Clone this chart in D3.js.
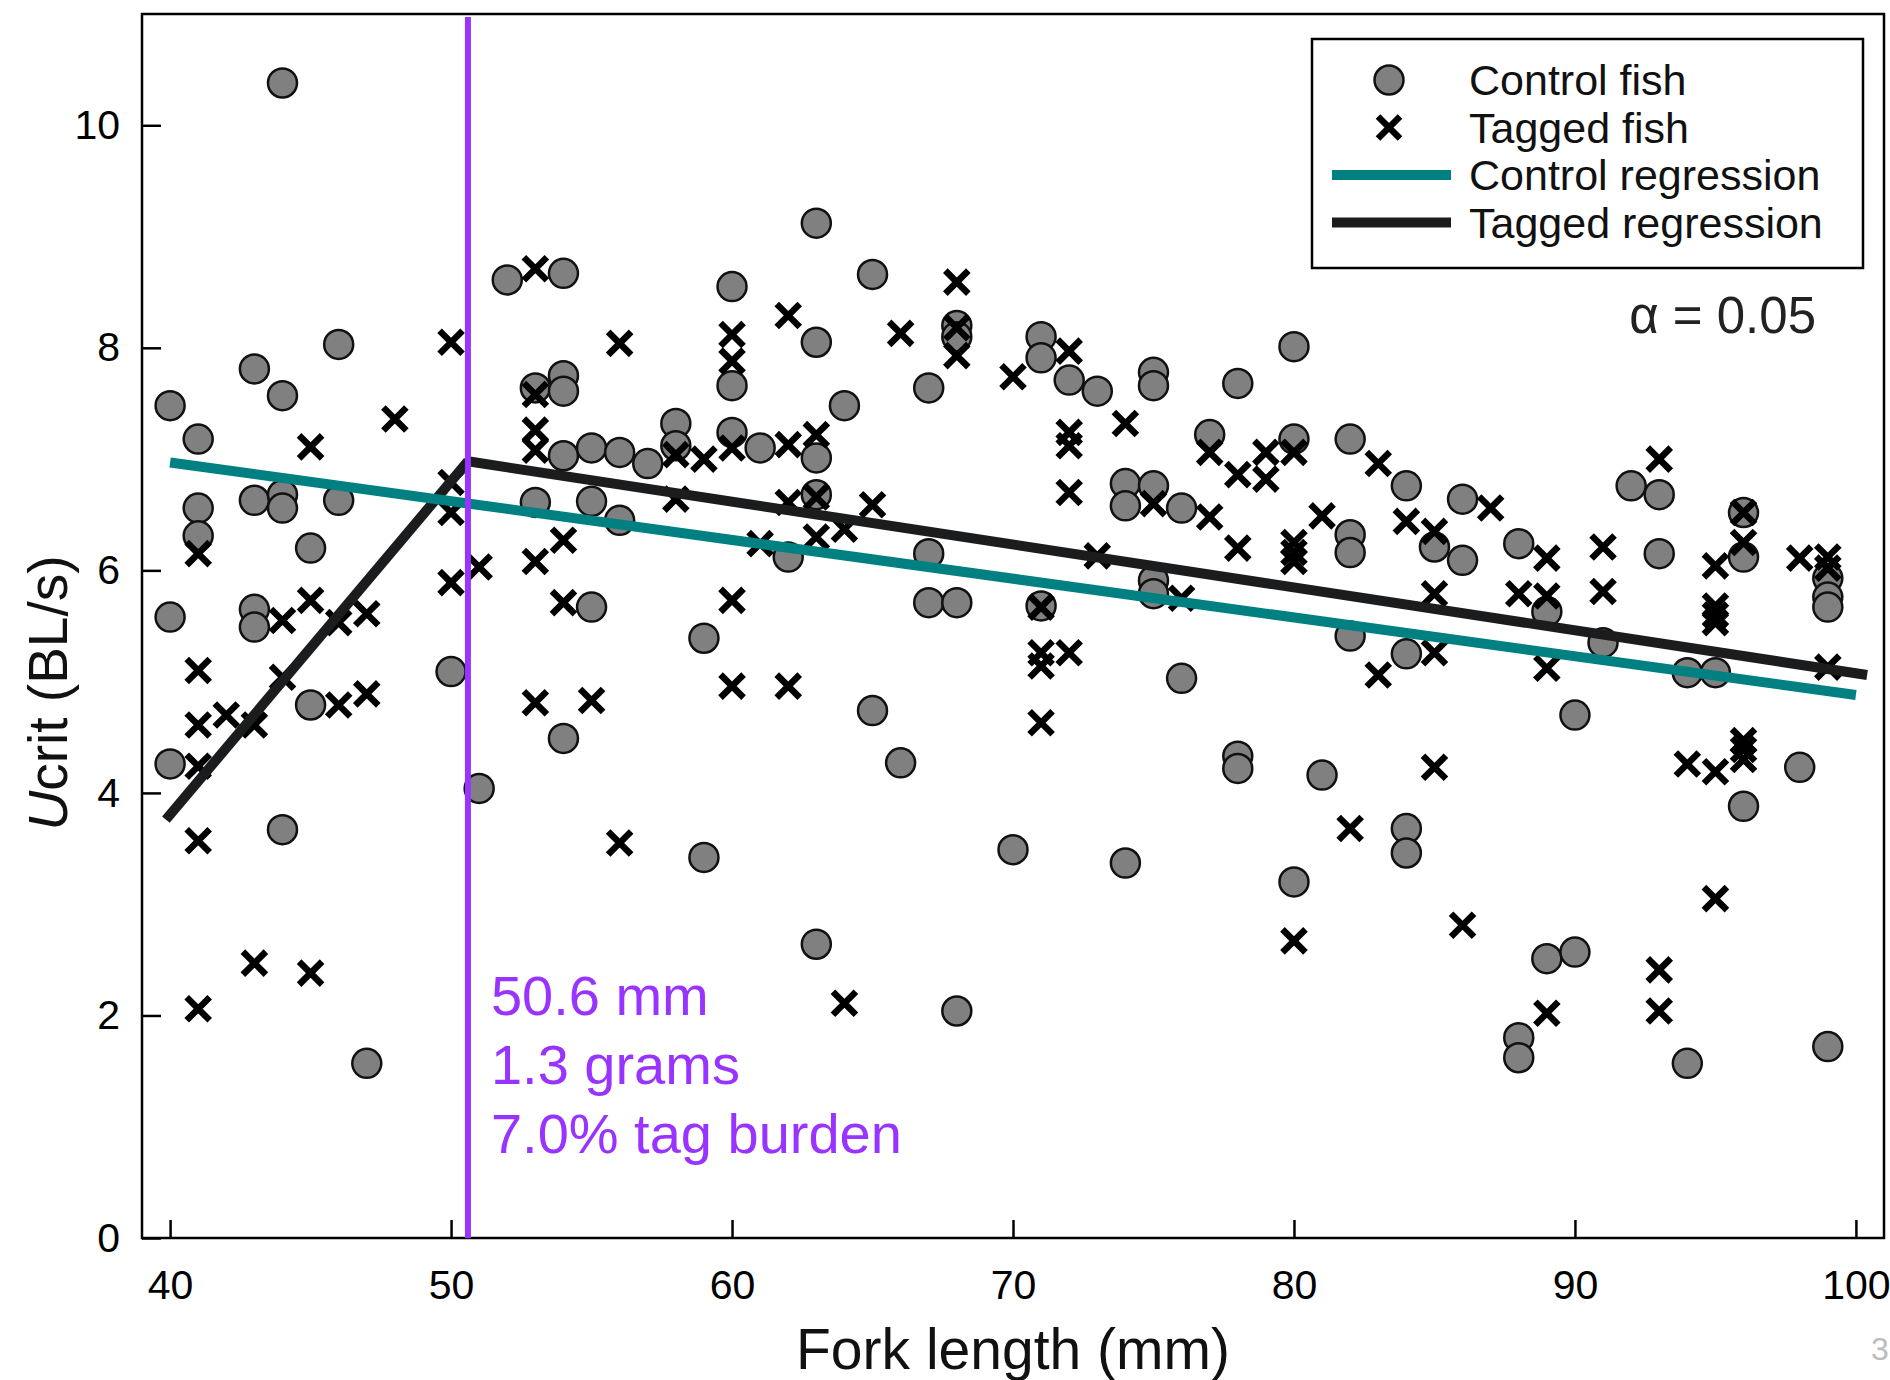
<!DOCTYPE html>
<html>
<head>
<meta charset="utf-8">
<script src="https://cdn.jsdelivr.net/npm/d3@7"></script>
<style>
  body { margin: 0; background: #fff; }
  text { font-family: "Liberation Sans", Arial, sans-serif; }
</style>
</head>
<body>
<div id="plot"></div>
<script>
// control fish: fork length (mm) and Ucrit (BL/s), one line per length
const controlLength = [
  40,40,40,
  41,41,41,
  43,43,43,43,
  44,44,44,44,44,
  45,45,
  46,46,
  47,
  50,
  51,
  52,
  53,53,
  54,54,54,54,54,
  55,55,55,
  56,56,
  57,
  58,58,
  59,59,
  60,60,60,
  61,
  62,
  63,63,63,63,63,
  64,
  65,65,
  66,
  67,67,67,
  68,68,68,68,
  70,
  71,71,71,
  72,
  73,
  74,74,74,
  75,75,75,75,75,
  76,76,
  77,
  78,78,78,
  80,80,80,
  81,
  82,82,82,82,
  84,84,84,84,
  85,
  86,86,
  88,88,88,
  89,89,
  90,90,
  91,
  92,
  93,93,
  94,94,
  95,
  96,96,96,
  98,
  99,99,99,99
];
const controlUcrit = [
  7.48,5.58,4.26,
  7.18,6.56,6.31,
  7.81,6.63,5.65,5.49,
  10.38,7.57,6.68,6.56,3.67,
  6.20,4.79,
  8.03,6.63,
  1.57,
  5.09,
  4.04,
  8.61,
  7.64,6.61,
  8.67,7.75,7.61,7.03,4.49,
  7.10,6.62,5.67,
  7.06,6.45,
  6.96,
  7.32,7.12,
  5.39,3.42,
  8.55,7.66,7.24,
  7.10,
  6.12,
  9.12,8.05,7.01,6.68,2.64,
  7.48,
  8.66,4.74,
  4.27,
  7.64,6.15,5.71,
  8.20,8.10,5.71,2.04,
  3.49,
  8.10,7.91,5.68,
  7.71,
  7.61,
  6.78,6.58,3.37,
  7.78,7.66,6.76,5.91,5.79,
  6.56,5.03,
  7.22,
  7.68,4.33,4.22,
  8.01,7.18,3.20,
  4.16,
  7.18,6.32,6.16,5.41,
  6.76,5.25,3.68,3.46,
  6.21,
  6.64,6.09,
  6.24,1.80,1.62,
  5.63,2.51,
  4.70,2.57,
  5.35,
  6.76,
  6.68,6.15,
  5.08,1.57,
  5.08,
  6.52,6.12,3.88,
  4.23,
  5.93,5.76,5.67,1.72
];

// tagged fish
const taggedLength = [
  41,41,41,41,41,41,
  42,
  43,43,
  44,44,
  45,45,45,
  46,46,
  47,47,
  48,
  50,50,50,50,
  51,
  53,53,53,53,53,53,
  54,54,
  55,
  56,56,
  58,58,
  59,
  60,60,60,60,60,
  61,
  62,62,62,62,
  63,63,63,
  64,64,
  65,
  66,
  68,68,68,
  70,
  71,71,71,71,
  72,72,72,72,72,
  73,
  74,
  75,
  76,
  77,77,
  78,78,
  79,79,
  80,80,80,80,80,
  81,
  82,
  83,83,
  84,
  85,85,85,85,
  86,
  87,
  88,
  89,89,89,89,
  91,91,
  93,93,93,
  94,
  95,95,95,95,95,95,
  96,96,96,96,96,
  98,
  99,99,99
];
const taggedUcrit = [
  6.15,5.10,4.61,4.24,3.57,2.06,
  4.70,
  4.61,2.47,
  5.55,5.04,
  7.11,5.73,2.38,
  5.53,4.79,
  5.61,4.89,
  7.36,
  8.05,6.79,6.52,5.89,
  6.03,
  8.71,7.58,7.26,7.08,6.08,4.81,
  6.27,5.71,
  4.83,
  8.04,3.55,
  7.04,6.64,
  7.00,
  8.12,7.88,7.10,5.73,4.96,
  6.24,
  8.29,7.13,6.61,4.96,
  7.22,6.66,6.30,
  6.37,2.11,
  6.59,
  8.13,
  8.59,8.18,7.93,
  7.74,
  5.67,5.26,5.14,4.63,
  7.97,7.24,7.12,6.70,5.26,
  6.13,
  7.32,
  6.60,
  5.75,
  7.06,6.48,
  6.86,6.20,
  7.06,6.82,
  7.06,6.25,6.16,6.08,2.67,
  6.49,
  3.68,
  6.96,5.06,
  6.44,
  6.35,5.79,5.26,4.23,
  2.81,
  6.56,
  5.79,
  6.11,5.77,5.12,2.02,
  6.21,5.81,
  7.00,2.41,2.04,
  4.26,
  6.04,5.68,5.60,5.53,4.19,3.05,
  6.52,6.25,4.47,4.39,4.30,
  6.11,
  6.12,6.02,5.13
];

// regression lines (end points)
const controlFitX = [40, 100];
const controlFitY = [6.97, 4.88];
const taggedLeftX = [39.85, 50.6];
const taggedLeftY = [3.76, 6.98];
const taggedRightX = [50.6, 100.4];
const taggedRightY = [6.98, 5.06];

const breakLength = 50.6;
const burdenText = ["50.6 mm", "1.3 grams", "7.0% tag burden"];
const legendLabels = ["Control fish", "Tagged fish", "Control regression", "Tagged regression"];
const xTicks = [40, 50, 60, 70, 80, 90, 100];
const yTicks = [0, 2, 4, 6, 8, 10];

const teal = "#008080";
const dark = "#1a1c1e";
const purple = "#9933ff";

// set svg dimensions and margins
const svgWidth = 1890;
const svgHeight = 1380;
const margin = {top: 14, right: 6, bottom: 142, left: 142};
const width = svgWidth - margin.left - margin.right;
const height = svgHeight - margin.top - margin.bottom;

let root = d3.select("#plot")
  .append("svg")
  .attr("width", svgWidth)
  .attr("height", svgHeight);

root.append("rect")
  .attr("width", svgWidth)
  .attr("height", svgHeight)
  .attr("fill", "#fff");

let svg = root.append("g")
  .attr("transform", "translate(" + margin.left + "," + margin.top + ")");

var x = d3.scaleLinear()
  .domain([39, 101])
  .range([0, width]);

var y = d3.scaleLinear()
  .domain([0, 11])
  .range([height, 0]);

// axes, ticks point inwards
let xAxis = svg.append("g")
  .attr("transform", "translate(0," + height + ")")
  .call(d3.axisBottom(x).tickValues(xTicks).tickSizeInner(-18).tickSizeOuter(0).tickPadding(32));

let yAxis = svg.append("g")
  .call(d3.axisLeft(y).tickValues(yTicks).tickSizeInner(-19).tickSizeOuter(0).tickPadding(22));

[xAxis, yAxis].forEach(function(a) {
  a.select(".domain").remove();
  a.attr("font-size", 41).attr("font-family", "Liberation Sans, Arial, sans-serif");
  a.selectAll("line").attr("stroke", "#000").attr("stroke-width", 2.5);
  a.selectAll("text").attr("fill", "#000");
});

// frame
svg.append("rect")
  .attr("width", width)
  .attr("height", height)
  .attr("fill", "none")
  .attr("stroke", "#000")
  .attr("stroke-width", 2.5);

// markers
function crossPath(r) {
  let p = d3.path();
  p.moveTo(-r, -r); p.lineTo(r, r);
  p.moveTo(-r, r); p.lineTo(r, -r);
  return p.toString();
}

svg.append("g").selectAll("circle")
  .data(d3.range(controlLength.length))
  .enter()
  .append("circle")
  .attr("cx", function(i) { return x(controlLength[i]); })
  .attr("cy", function(i) { return y(controlUcrit[i]); })
  .attr("r", 14.5)
  .attr("fill", "#808080")
  .attr("stroke", "#111")
  .attr("stroke-width", 2.5);

svg.append("g").selectAll("path")
  .data(d3.range(taggedLength.length))
  .enter()
  .append("path")
  .attr("transform", function(i) { return "translate(" + x(taggedLength[i]) + "," + y(taggedUcrit[i]) + ")"; })
  .attr("d", crossPath(11.5))
  .attr("fill", "none")
  .attr("stroke", "#000")
  .attr("stroke-width", 6.5);

// regression lines
let line = d3.line()
  .x(function(d) { return x(d[0]); })
  .y(function(d) { return y(d[1]); });

svg.append("path")
  .datum(d3.zip(taggedLeftX, taggedLeftY))
  .attr("d", line)
  .attr("fill", "none")
  .attr("stroke", dark)
  .attr("stroke-width", 10);

svg.append("path")
  .datum(d3.zip(taggedRightX, taggedRightY))
  .attr("d", line)
  .attr("fill", "none")
  .attr("stroke", dark)
  .attr("stroke-width", 10);

svg.append("path")
  .datum(d3.zip(controlFitX, controlFitY))
  .attr("d", line)
  .attr("fill", "none")
  .attr("stroke", teal)
  .attr("stroke-width", 10);

// breakpoint line and its notes
svg.append("line")
  .attr("x1", x(breakLength))
  .attr("x2", x(breakLength))
  .attr("y1", 3)
  .attr("y2", height)
  .attr("stroke", purple)
  .attr("stroke-width", 6);

svg.append("g").selectAll("text")
  .data(burdenText)
  .enter()
  .append("text")
  .attr("x", x(breakLength) + 23)
  .attr("y", function(d, i) { return 1001 + i * 69; })
  .attr("font-size", 56)
  .attr("fill", purple)
  .text(function(d) { return d; });

svg.append("text")
  .attr("x", 1674)
  .attr("y", 319)
  .attr("text-anchor", "end")
  .attr("font-size", 51)
  .attr("fill", "#222")
  .text("\u03b1 = 0.05");

// legend
let legend = svg.append("g")
  .attr("transform", "translate(1170,25)");

legend.append("rect")
  .attr("width", 551)
  .attr("height", 229)
  .attr("fill", "#fff")
  .attr("stroke", "#000")
  .attr("stroke-width", 2.5);

let rowY = function(i) { return 41 + i * 47.5; };

legend.append("circle")
  .attr("cx", 77).attr("cy", rowY(0))
  .attr("r", 14.5)
  .attr("fill", "#808080")
  .attr("stroke", "#111")
  .attr("stroke-width", 2.5);

legend.append("path")
  .attr("transform", "translate(77," + rowY(1) + ")")
  .attr("d", crossPath(11))
  .attr("fill", "none")
  .attr("stroke", "#000")
  .attr("stroke-width", 6.5);

[teal, dark].forEach(function(c, k) {
  legend.append("line")
    .attr("x1", 20).attr("x2", 139)
    .attr("y1", rowY(k + 2)).attr("y2", rowY(k + 2))
    .attr("stroke", c)
    .attr("stroke-width", 10);
});

legend.selectAll("text")
  .data(legendLabels)
  .enter()
  .append("text")
  .attr("x", 157)
  .attr("y", function(d, i) { return rowY(i) + 15; })
  .attr("font-size", 43)
  .attr("fill", "#111")
  .text(function(d) { return d; });

// axis titles
root.append("text")
  .attr("x", margin.left + width / 2)
  .attr("y", 1369)
  .attr("text-anchor", "middle")
  .attr("font-size", 57)
  .attr("fill", "#111")
  .text("Fork length (mm)");

let yTitle = root.append("text")
  .attr("transform", "translate(67,693) rotate(-90)")
  .attr("text-anchor", "middle")
  .attr("font-size", 55)
  .attr("fill", "#111");
yTitle.append("tspan").attr("font-style", "italic").text("U");
yTitle.append("tspan").text("crit (BL/s)");

// slide number
root.append("text")
  .attr("x", 1871)
  .attr("y", 1360)
  .attr("font-size", 32)
  .attr("fill", "#bbb")
  .text("3");
</script>
</body>
</html>
